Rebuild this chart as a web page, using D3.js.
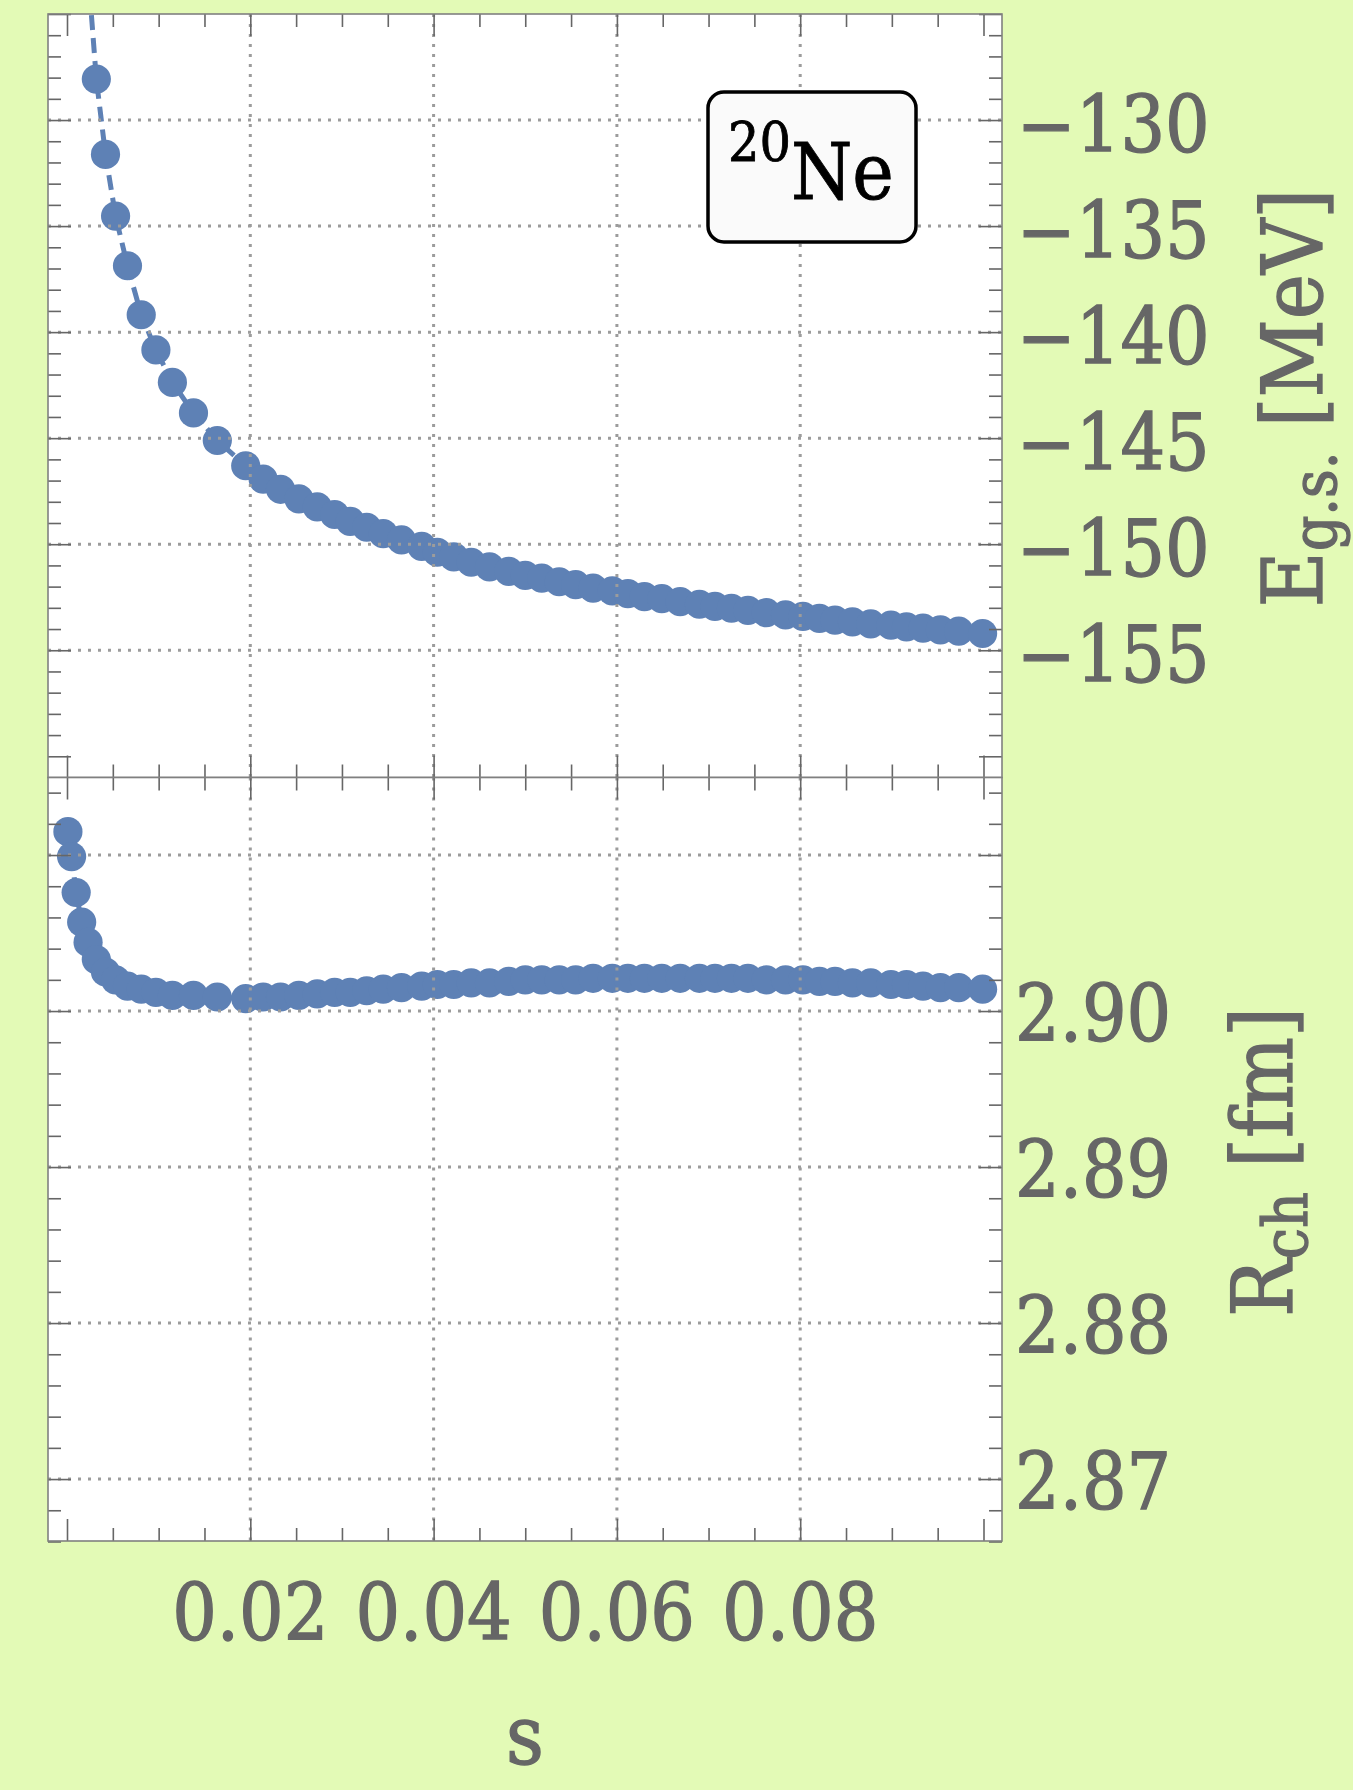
<!DOCTYPE html>
<html>
<head>
<meta charset="utf-8">
<script src="https://cdn.jsdelivr.net/npm/d3@7"></script>
<style>
  body { margin: 0; background: #e3fab6; }
  svg { display: block; }
</style>
</head>
<body>
<svg id="chart"></svg>
<script>
// s values of the points
const sValues = [
  0.0001, 0.0005, 0.0010, 0.0016, 0.0023, 0.0032, 0.0042, 0.0053, 0.0066, 0.0081,
  0.0097, 0.0115, 0.0138, 0.0164, 0.0195, 0.0214, 0.0233, 0.0253, 0.0273, 0.0292,
  0.0309, 0.0327, 0.0345, 0.0365, 0.0387, 0.0404, 0.0422, 0.0441, 0.0461, 0.0482,
  0.0500, 0.0518, 0.0537, 0.0555, 0.0574, 0.0595, 0.0612, 0.0630, 0.0649, 0.0669,
  0.0690, 0.0707, 0.0725, 0.0743, 0.0763, 0.0784, 0.0803, 0.0821, 0.0838, 0.0857,
  0.0877, 0.0899, 0.0916, 0.0934, 0.0953, 0.0973, 0.0999
];

// ground state energy [MeV]; the first five sit above the plot range
const energy = [
  -60.0, -90.0, -105.0, -116.0, -123.0, -128.07, -131.62, -134.53, -136.87, -139.18,
  -140.84, -142.37, -143.81, -145.11, -146.30, -146.93, -147.41, -147.86, -148.24, -148.60,
  -148.92, -149.20, -149.50, -149.80, -150.10, -150.38, -150.60, -150.85, -151.07, -151.28,
  -151.47, -151.60, -151.77, -151.91, -152.07, -152.20, -152.33, -152.47, -152.57, -152.71,
  -152.83, -152.93, -153.02, -153.12, -153.23, -153.33, -153.40, -153.50, -153.58, -153.66,
  -153.76, -153.82, -153.90, -153.96, -154.04, -154.10, -154.21
];

// charge radius [fm]
const radius = [
  2.9115, 2.9099, 2.9076, 2.9057, 2.9044, 2.9033, 2.9025, 2.9020, 2.9016, 2.9014,
  2.9012, 2.9010, 2.9010, 2.9009, 2.9008, 2.9009, 2.9009, 2.9010, 2.9011, 2.9012,
  2.9012, 2.9013, 2.9014, 2.9015, 2.9016, 2.9017, 2.9017, 2.9018, 2.9018, 2.9019,
  2.9020, 2.9020, 2.9020, 2.9020, 2.9021, 2.9021, 2.9021, 2.9021, 2.9021, 2.9021,
  2.9021, 2.9021, 2.9021, 2.9021, 2.9020, 2.9020, 2.9020, 2.9019, 2.9019, 2.9018,
  2.9018, 2.9017, 2.9017, 2.9016, 2.9015, 2.9015, 2.9014
];

const xTickLabels = [0.02, 0.04, 0.06, 0.08];
const xMajorTicks = [0, 0.02, 0.04, 0.06, 0.08, 0.1];
const xGrid = [0.02, 0.04, 0.06, 0.08];

const energyTickLabels = [-130, -135, -140, -145, -150, -155];
const energyMajorTicks = [-160, -155, -150, -145, -140, -135, -130, -125];
const energyGrid = [-130, -135, -140, -145, -150, -155];

const radiusTickLabels = [2.90, 2.89, 2.88, 2.87];
const radiusMajorTicks = [2.87, 2.88, 2.89, 2.90, 2.91];
const radiusGrid = [2.87, 2.88, 2.89, 2.90, 2.91];

const data = sValues.map((s, i) => ({ s: s, e: energy[i], r: radius[i] }));

const FONT = '"DejaVu Serif Condensed", "DejaVu Serif", serif';
const BLUE = "#5e81b5";
const GREY = "#666666";

const width = 1353, height = 1790;
const frame = { left: 48, right: 1002, top: 14, mid: 777.5, bottom: 1541 };

const svg = d3.select("#chart")
    .attr("width", width)
    .attr("height", height)
    .style("background", "#e3fab6");

// scales
const x = d3.scaleLinear().domain([0, 0.1]).range([67, 983.5]);
const yE = d3.scaleLinear().domain([-161, -125]).range([frame.mid, frame.top]);
const yR = d3.scaleLinear().domain([2.86603, 2.91497]).range([frame.bottom, frame.mid]);

const xMinor = d3.range(0, 0.1001, 0.005).filter(v => !xMajorTicks.some(m => Math.abs(m - v) < 1e-9));

function drawPanel(y, key, top, bottom, majorY, minorY, grid, clipId) {
    const g = svg.append("g");

    g.append("rect")
        .attr("x", frame.left).attr("y", top)
        .attr("width", frame.right - frame.left).attr("height", bottom - top)
        .attr("fill", "white");

    svg.append("clipPath").attr("id", clipId)
        .append("rect")
        .attr("x", frame.left).attr("y", top)
        .attr("width", frame.right - frame.left).attr("height", bottom - top);

    const plot = g.append("g").attr("clip-path", `url(#${clipId})`);

    // dashed joining line
    const line = d3.line().x(d => x(d.s)).y(d => y(d[key]));
    plot.append("path")
        .datum(data)
        .attr("fill", "none")
        .attr("stroke", BLUE)
        .attr("stroke-width", 5)
        .attr("stroke-dasharray", "15,8")
        .attr("d", line);

    // points
    plot.selectAll("circle")
        .data(data)
        .join("circle")
        .attr("cx", d => x(d.s))
        .attr("cy", d => y(d[key]))
        .attr("r", 14.6)
        .attr("fill", BLUE);

    // grid lines, on top of the points as in the original
    const gridStyle = sel => sel
        .attr("stroke", "#9c9c9c")
        .attr("stroke-width", 3)
        .attr("stroke-dasharray", "3,7");

    plot.selectAll(".gx")
        .data(xGrid)
        .join("line")
        .attr("x1", d => x(d)).attr("x2", d => x(d))
        .attr("y1", top).attr("y2", bottom)
        .call(gridStyle);

    plot.selectAll(".gy")
        .data(grid)
        .join("line")
        .attr("x1", frame.left).attr("x2", frame.right)
        .attr("y1", d => y(d)).attr("y2", d => y(d))
        .call(gridStyle);

    // frame ticks, pointing inward
    const tickAxis = (axis, tx, ty, values, size) => {
        const a = g.append("g")
            .attr("transform", `translate(${tx},${ty})`)
            .call(axis.tickValues(values).tickSize(size).tickFormat(""));
        a.select(".domain").remove();
        a.selectAll("line").attr("stroke", GREY).attr("stroke-width", 1.6);
    };

    tickAxis(d3.axisLeft(y), frame.left, 0, majorY, -23);
    tickAxis(d3.axisLeft(y), frame.left, 0, minorY, -13);
    tickAxis(d3.axisRight(y), frame.right, 0, majorY, -23);
    tickAxis(d3.axisRight(y), frame.right, 0, minorY, -13);
    tickAxis(d3.axisTop(x), 0, top, xMajorTicks, -22);
    tickAxis(d3.axisTop(x), 0, top, xMinor, -13);
    tickAxis(d3.axisBottom(x), 0, bottom, xMajorTicks, -22);
    tickAxis(d3.axisBottom(x), 0, bottom, xMinor, -13);

    g.append("rect")
        .attr("x", frame.left).attr("y", top)
        .attr("width", frame.right - frame.left).attr("height", bottom - top)
        .attr("fill", "none")
        .attr("stroke", "#808080")
        .attr("stroke-width", 1.6);

    return g;
}

const energyMinor = d3.range(-161, -124.5, 1).filter(v => v % 5 !== 0);
const radiusMinor = d3.range(2.866, 2.9151, 0.002)
    .map(v => +v.toFixed(3))
    .filter(v => !radiusMajorTicks.some(m => Math.abs(m - v) < 1e-9));

drawPanel(yE, "e", frame.top, frame.mid, energyMajorTicks, energyMinor, energyGrid, "clipTop");
drawPanel(yR, "r", frame.mid, frame.bottom, radiusMajorTicks, radiusMinor, radiusGrid, "clipBottom");

// tick labels (a thin outline gives the heavier strokes of the original face)
const labelStyle = sel => sel
    .attr("font-family", FONT)
    .attr("font-stretch", "condensed")
    .attr("font-size", 78)
    .attr("fill", GREY)
    .attr("stroke", GREY)
    .attr("stroke-width", 1.3);

svg.append("g").selectAll("text")
    .data(energyTickLabels)
    .join("text")
    .attr("x", 1017)
    .attr("y", d => yE(d) + 32)
    .text(d => "\u2212" + Math.abs(d))
    .call(labelStyle);

svg.append("g").selectAll("text")
    .data(radiusTickLabels)
    .join("text")
    .attr("x", 1015)
    .attr("y", d => yR(d) + 30)
    .text(d => d3.format(".2f")(d))
    .call(labelStyle);

svg.append("g").selectAll("text")
    .data(xTickLabels)
    .join("text")
    .attr("x", d => x(d))
    .attr("y", 1640)
    .attr("text-anchor", "middle")
    .text(d => d3.format(".2f")(d))
    .call(labelStyle);

// axis titles
svg.append("text")
    .attr("x", (frame.left + frame.right) / 2)
    .attr("y", 1764)
    .attr("text-anchor", "middle")
    .text("s")
    .call(labelStyle)
    .attr("font-size", 82);

const eTitle = svg.append("text")
    .attr("transform", "translate(1322,398) rotate(-90)")
    .attr("text-anchor", "middle")
    .call(labelStyle)
    .attr("font-size", 85);
eTitle.append("tspan").text("E");
eTitle.append("tspan").attr("dy", 14).attr("font-size", 62).text("g.s.");
eTitle.append("tspan").attr("dy", -14).text(" [MeV]");

const rTitle = svg.append("text")
    .attr("transform", "translate(1292,1162) rotate(-90)")
    .attr("text-anchor", "middle")
    .call(labelStyle)
    .attr("font-size", 85);
rTitle.append("tspan").text("R");
rTitle.append("tspan").attr("dy", 15).attr("font-size", 62).text("ch");
rTitle.append("tspan").attr("dy", -15).text(" [fm]");

// nucleus label
const box = svg.append("g");
box.append("rect")
    .attr("x", 708).attr("y", 92)
    .attr("width", 208).attr("height", 150)
    .attr("rx", 16)
    .attr("fill", "#fafafa")
    .attr("stroke", "black")
    .attr("stroke-width", 3.5);
const nucleus = box.append("text")
    .attr("x", 728)
    .attr("y", 199)
    .attr("font-family", FONT)
    .attr("font-stretch", "condensed")
    .attr("fill", "black")
    .attr("stroke", "black")
    .attr("stroke-width", 0.8);
nucleus.append("tspan").attr("font-size", 55).attr("dy", -38).text("20");
nucleus.append("tspan").attr("font-size", 78).attr("dy", 38).text("Ne");
</script>
</body>
</html>
